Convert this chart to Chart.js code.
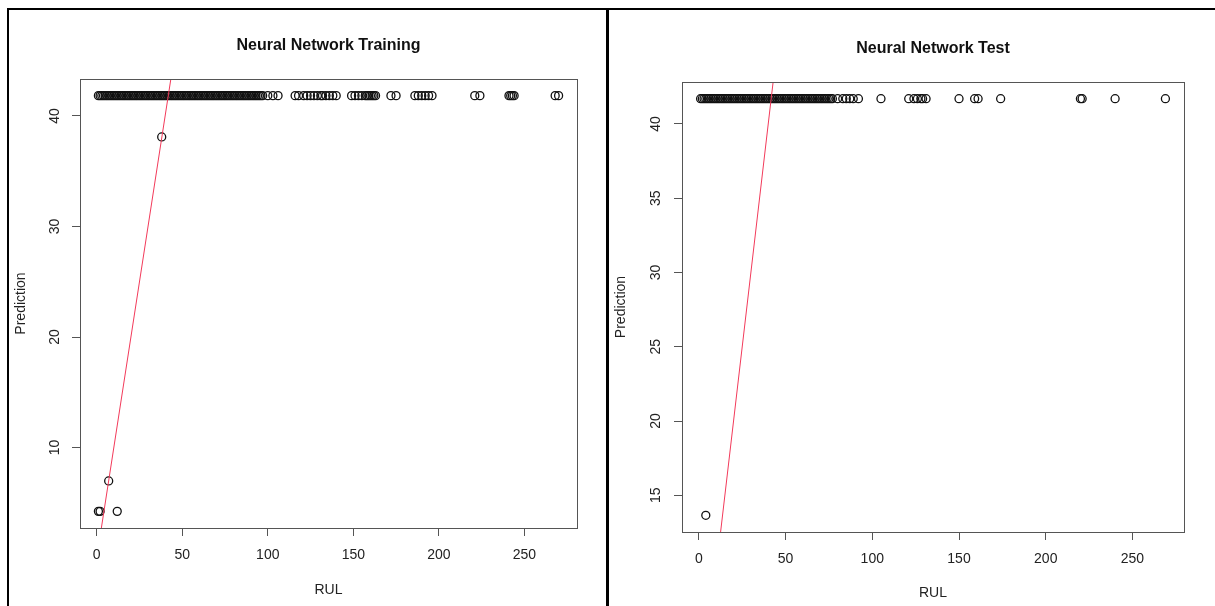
<!DOCTYPE html>
<html>
<head>
<meta charset="utf-8">
<script src="https://cdn.jsdelivr.net/npm/chart.js@4.4.1/dist/chart.umd.min.js"></script>
<style>
  html, body { margin: 0; padding: 0; background: #fff; }
  body { width: 1215px; height: 606px; position: relative; overflow: hidden; }
  canvas { position: absolute; top: 0; }
  #c1 { left: 0; }
  #c2 { left: 607px; }
  .rule { position: absolute; background: #000; }
</style>
</head>
<body>
<canvas id="c1" width="607" height="606"></canvas>
<canvas id="c2" width="608" height="606"></canvas>
<div class="rule" style="left:7px;top:8px;width:1208px;height:2px"></div>
<div class="rule" style="left:7px;top:8px;width:2px;height:598px"></div>
<div class="rule" style="left:606px;top:8px;width:3px;height:598px"></div>
<script>
// ---- Training set: observed RUL vs network prediction ----
const trainRUL = [
  1, 2, 3, 4, 5, 6, 7, 8, 9, 10, 11, 12, 13, 14, 15, 16, 17, 18, 19, 20,
  21, 22, 23, 24, 25, 26, 27, 28, 29, 30, 31, 32, 33, 34, 35, 36, 37, 38, 39, 40,
  41, 42, 43, 44, 45, 46, 47, 48, 49, 50, 51, 52, 53, 54, 55, 56, 57, 58, 59, 60,
  61, 62, 63, 64, 65, 66, 67, 68, 69, 70, 71, 72, 73, 74, 75, 76, 77, 78, 79, 80,
  81, 82, 83, 84, 85, 86, 87, 88, 89, 90, 91, 92, 93, 94, 95, 96, 97, 100, 103, 106,
  116, 118, 121, 123, 125, 127, 129, 131, 132, 134, 136, 138, 140, 149, 151, 153, 155, 157, 158, 159,
  160, 161, 162, 163, 172, 175, 186, 188, 190, 192, 194, 196, 221, 224, 241, 242, 243, 244, 268, 270,
  1, 2, 7, 12, 38
];
const trainPred = [
  41.84, 41.84, 41.84, 41.84, 41.84, 41.84, 41.84, 41.84, 41.84, 41.84, 41.84, 41.84, 41.84, 41.84, 41.84, 41.84, 41.84, 41.84, 41.84, 41.84,
  41.84, 41.84, 41.84, 41.84, 41.84, 41.84, 41.84, 41.84, 41.84, 41.84, 41.84, 41.84, 41.84, 41.84, 41.84, 41.84, 41.84, 41.84, 41.84, 41.84,
  41.84, 41.84, 41.84, 41.84, 41.84, 41.84, 41.84, 41.84, 41.84, 41.84, 41.84, 41.84, 41.84, 41.84, 41.84, 41.84, 41.84, 41.84, 41.84, 41.84,
  41.84, 41.84, 41.84, 41.84, 41.84, 41.84, 41.84, 41.84, 41.84, 41.84, 41.84, 41.84, 41.84, 41.84, 41.84, 41.84, 41.84, 41.84, 41.84, 41.84,
  41.84, 41.84, 41.84, 41.84, 41.84, 41.84, 41.84, 41.84, 41.84, 41.84, 41.84, 41.84, 41.84, 41.84, 41.84, 41.84, 41.84, 41.84, 41.84, 41.84,
  41.84, 41.84, 41.84, 41.84, 41.84, 41.84, 41.84, 41.84, 41.84, 41.84, 41.84, 41.84, 41.84, 41.84, 41.84, 41.84, 41.84, 41.84, 41.84, 41.84,
  41.84, 41.84, 41.84, 41.84, 41.84, 41.84, 41.84, 41.84, 41.84, 41.84, 41.84, 41.84, 41.84, 41.84, 41.84, 41.84, 41.84, 41.84, 41.84, 41.84,
  4.23, 4.23, 6.98, 4.23, 38.1
];

// ---- Test set: observed RUL vs network prediction ----
const testRUL = [
  1, 2, 3, 4, 5, 6, 7, 8, 9, 10, 11, 12, 13, 14, 15, 16, 17, 18, 19, 20,
  21, 22, 23, 24, 25, 26, 27, 28, 29, 30, 31, 32, 33, 34, 35, 36, 37, 38, 39, 40,
  41, 42, 43, 44, 45, 46, 47, 48, 49, 50, 51, 52, 53, 54, 55, 56, 57, 58, 59, 60,
  61, 62, 63, 64, 65, 66, 67, 68, 69, 70, 71, 72, 73, 74, 75, 76, 77, 80, 83, 85,
  87, 89, 92, 105, 121, 124, 126, 128, 129, 131, 150, 159, 161, 174, 220, 221, 240, 269,
  4
];
const testPred = [
  41.7, 41.7, 41.7, 41.7, 41.7, 41.7, 41.7, 41.7, 41.7, 41.7, 41.7, 41.7, 41.7, 41.7, 41.7, 41.7, 41.7, 41.7, 41.7, 41.7,
  41.7, 41.7, 41.7, 41.7, 41.7, 41.7, 41.7, 41.7, 41.7, 41.7, 41.7, 41.7, 41.7, 41.7, 41.7, 41.7, 41.7, 41.7, 41.7, 41.7,
  41.7, 41.7, 41.7, 41.7, 41.7, 41.7, 41.7, 41.7, 41.7, 41.7, 41.7, 41.7, 41.7, 41.7, 41.7, 41.7, 41.7, 41.7, 41.7, 41.7,
  41.7, 41.7, 41.7, 41.7, 41.7, 41.7, 41.7, 41.7, 41.7, 41.7, 41.7, 41.7, 41.7, 41.7, 41.7, 41.7, 41.7, 41.7, 41.7, 41.7,
  41.7, 41.7, 41.7, 41.7, 41.7, 41.7, 41.7, 41.7, 41.7, 41.7, 41.7, 41.7, 41.7, 41.7, 41.7, 41.7, 41.7, 41.7,
  13.65
];

// ---- Axis ticks ----
const trainXTicks = [0, 50, 100, 150, 200, 250];
const trainYTicks = [10, 20, 30, 40];
const testXTicks = [0, 50, 100, 150, 200, 250];
const testYTicks = [15, 20, 25, 30, 35, 40];

// Reference line: prediction = RUL
const ablineIntercept = 0;
const ablineSlope = 1;

const FONT = "'Liberation Sans', Arial, Helvetica, sans-serif";
const INK = '#222';
const FRAME = '#555';

// Axis limits padded by 4% of the data range on each side
function paddedRange(v) {
  const lo = Math.min(...v), hi = Math.max(...v), d = (hi - lo) * 0.04;
  return [lo - d, hi + d];
}

// Box around the plotting region
const plotBox = {
  id: 'plotBox',
  afterDraw(chart) {
    const { ctx, chartArea: a } = chart;
    ctx.save();
    ctx.strokeStyle = FRAME;
    ctx.lineWidth = 1;
    ctx.strokeRect(Math.round(a.left) + 0.5, Math.round(a.top) + 0.5,
      Math.round(a.right - a.left), Math.round(a.bottom - a.top));
    ctx.restore();
  }
};

function makePanel(id, rul, pred, xTicks, yTicks, title, g) {
  const xr = paddedRange(rul);
  const yr = paddedRange(pred);
  const points = rul.map((r, i) => ({ x: r, y: pred[i] }));
  const ablinePts = xr.map(v => ({ x: v, y: ablineIntercept + ablineSlope * v }));

  return new Chart(document.getElementById(id), {
    type: 'scatter',
    data: {
      datasets: [
        {
          type: 'line',
          data: ablinePts,
          borderColor: '#f23a5a',
          borderWidth: 1,
          pointRadius: 0,
          fill: false,
          tension: 0
        },
        {
          data: points,
          pointStyle: 'circle',
          pointRadius: 4,
          pointBorderWidth: 1.3,
          pointBorderColor: '#111',
          pointBackgroundColor: 'rgba(0,0,0,0)'
        }
      ]
    },
    options: {
      responsive: false,
      animation: false,
      events: [],
      layout: { padding: { left: 0, right: g.padRight, top: 0, bottom: 0 } },
      plugins: {
        legend: { display: false },
        tooltip: { enabled: false },
        title: {
          display: true,
          text: title,
          fullSize: false,
          color: '#111',
          font: { family: FONT, size: 16, weight: 'bold' },
          padding: { top: g.titleTop, bottom: g.titleBottom }
        }
      },
      scales: {
        x: {
          type: 'linear',
          min: xr[0],
          max: xr[1],
          afterBuildTicks: s => { s.ticks = xTicks.map(v => ({ value: v })); },
          afterFit: s => { s.height = g.xAxisHeight; },
          grid: { display: true, drawOnChartArea: false, drawTicks: true, tickLength: 8, color: FRAME, lineWidth: 1 },
          border: { display: true, color: FRAME, width: 1 },
          ticks: { color: INK, font: { family: FONT, size: 14 }, padding: g.xTickPad, maxRotation: 0, minRotation: 0, autoSkip: false },
          title: { display: true, text: 'RUL', color: INK, font: { family: FONT, size: 14 }, padding: { top: 0, bottom: g.xTitlePad } }
        },
        y: {
          type: 'linear',
          min: yr[0],
          max: yr[1],
          afterBuildTicks: s => { s.ticks = yTicks.map(v => ({ value: v })); },
          afterFit: s => { s.width = g.yAxisWidth; },
          grid: { display: true, drawOnChartArea: false, drawTicks: true, tickLength: 8, color: FRAME, lineWidth: 1 },
          border: { display: true, color: FRAME, width: 1 },
          ticks: { color: INK, font: { family: FONT, size: 14 }, padding: g.yTickPad, minRotation: 90, maxRotation: 90, crossAlign: 'center', autoSkip: false },
          title: { display: true, text: 'Prediction', color: INK, font: { family: FONT, size: 14 }, padding: { top: g.yTitlePad, bottom: 0 } }
        }
      }
    },
    plugins: [plotBox]
  });
}

makePanel('c1', trainRUL, trainPred, trainXTicks, trainYTicks, 'Neural Network Training', {
  padRight: 30, yAxisWidth: 80, xAxisHeight: 78,
  titleTop: 36.4, titleBottom: 23.4,
  xTickPad: 10.9, yTickPad: 9.5, xTitlePad: 7, yTitlePad: 13
});

makePanel('c2', testRUL, testPred, testXTicks, testYTicks, 'Neural Network Test', {
  padRight: 31, yAxisWidth: 75, xAxisHeight: 74,
  titleTop: 39.4, titleBottom: 23.4,
  xTickPad: 10.9, yTickPad: 10, xTitlePad: 4, yTitlePad: 6
});
</script>
</body>
</html>
